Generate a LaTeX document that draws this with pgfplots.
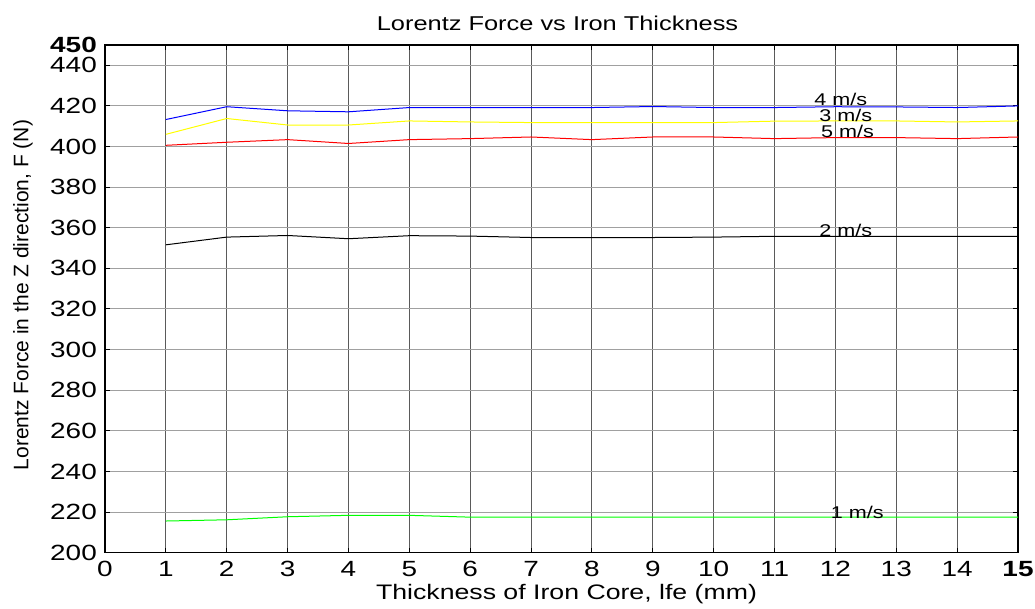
\documentclass[border=0pt]{standalone}
\usepackage{fontspec}
\setmainfont[FakeStretch=1.27]{Liberation Sans}
\newfontfamily\ylabfont{Liberation Sans}
\usepackage{pgfplots}
\pgfplotsset{compat=1.18}

\definecolor{vgrid}{RGB}{90,90,90}
\definecolor{hgrid}{RGB}{160,160,160}

\begin{document}
\begin{tikzpicture}
\path[use as bounding box] (-105pt,-56.3pt) rectangle (930pt,552.7pt);
\begin{axis}[
  at={(0pt,0pt)}, anchor=south west,
  scale only axis, width=913pt, height=507.7pt,
  xmin=0, xmax=15, ymin=200, ymax=450,
  xtick={0,1,2,3,4,5,6,7,8,9,10,11,12,13,14,15},
  xticklabels={0,1,2,3,4,5,6,7,8,9,10,11,12,13,14,\textbf{15}},
  ytick={200,220,240,260,280,300,320,340,360,380,400,420,440,450},
  yticklabels={200,220,240,260,280,300,320,340,360,380,400,420,440,\textbf{450}},
  /pgf/number format/assume math mode=true,
  tick pos=both, tick align=inside, major tick length=5pt,
  every tick/.style={black, line width=1pt},
  axis line style={black, line width=1.3pt},
  xticklabel style={font=\fontsize{22}{22}\selectfont, anchor=base, yshift=-24pt, inner sep=0pt},
  yticklabel style={font=\fontsize{22}{22}\selectfont, anchor=east, xshift=-8pt, inner sep=0pt},
  grid=major,
  major x grid style={vgrid, line width=0.9pt, dash pattern=on 1.2pt off 0.8pt},
  major y grid style={hgrid, line width=1pt},
  every axis plot/.append style={line width=1pt, mark=none},
  clip=true,
]
% 4 m/s
\addplot[color={rgb,255:red,0;green,0;blue,255}] coordinates {
  (1,413.3) (2,419.6) (3,417.6) (4,417.1) (5,419.2) (6,419.2) (7,419.2) (8,419.2)
  (9,419.7) (10,419.2) (11,419.2) (12,419.6) (13,419.5) (14,419.2) (15,420.0)};
% 3 m/s
\addplot[color={rgb,255:red,255;green,255;blue,0}] coordinates {
  (1,406.0) (2,413.8) (3,410.6) (4,410.6) (5,412.6) (6,412.1) (7,411.8) (8,411.8)
  (9,411.8) (10,411.8) (11,412.5) (12,412.6) (13,412.6) (14,412.1) (15,412.6)};
% 5 m/s
\addplot[color={rgb,255:red,255;green,0;blue,0}] coordinates {
  (1,400.6) (2,402.1) (3,403.4) (4,401.5) (5,403.4) (6,403.9) (7,404.7) (8,403.4)
  (9,404.7) (10,404.7) (11,403.9) (12,404.4) (13,404.4) (14,403.9) (15,404.7)};
% 2 m/s
\addplot[color=black] coordinates {
  (1,351.6) (2,355.4) (3,356.2) (4,354.6) (5,356.1) (6,355.9) (7,355.2) (8,355.2)
  (9,355.2) (10,355.4) (11,355.8) (12,355.8) (13,355.8) (14,355.8) (15,355.8)};
% 1 m/s
\addplot[color={rgb,255:red,0;green,255;blue,0}] coordinates {
  (1,215.6) (2,216.2) (3,217.7) (4,218.4) (5,218.4) (6,217.5) (7,217.5) (8,217.5)
  (9,217.5) (10,217.5) (11,217.5) (12,217.5) (13,217.5) (14,217.5) (15,217.5)};

\begin{scope}[every node/.style={font=\fontsize{17}{17}\selectfont, inner sep=0pt, anchor=center}]
\node at (axis cs:12.09,423.0) {4 m/s};
\node at (axis cs:12.17,415.2) {3 m/s};
\node at (axis cs:12.20,407.4) {5 m/s};
\node at (axis cs:12.17,358.6) {2 m/s};
\node at (axis cs:12.36,219.8) {1 m/s};
\end{scope}
\end{axis}

\node[anchor=base, font=\fontsize{20}{20}\selectfont] at (452.5pt,521.7pt) {Lorentz Force vs Iron Thickness};
\node[anchor=base, font=\fontsize{21}{21}\selectfont] at (461.5pt,-46.6pt) {Thickness of Iron Core, lfe (mm)};
\node[rotate=90, anchor=center, font=\ylabfont\fontsize{21}{21}\selectfont] at (-82pt,257.7pt) {Lorentz Force in the Z direction, F (N)};
\end{tikzpicture}
\end{document}
